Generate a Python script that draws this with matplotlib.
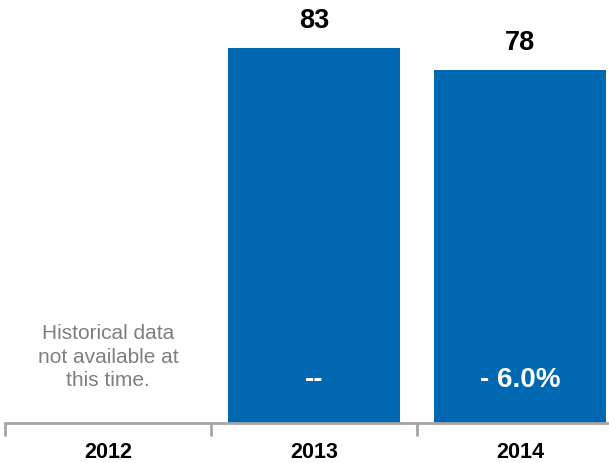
import matplotlib
matplotlib.use("Agg")
import matplotlib.pyplot as plt

# yearly index values; 2012 has no data
years = ["2012", "2013", "2014"]
values = [None, 83, 78]
changes = [None, "--", "- 6.0%"]
no_data_note = "Historical data\nnot available at\nthis time."

BLUE = "#0067B1"
GREY = "#A6A6A6"

plt.rcParams["font.family"] = ["Liberation Sans", "DejaVu Sans"]

fig = plt.figure(figsize=(6.09, 4.63), dpi=100)
ax = fig.add_axes([0.008, 0.0864, 0.992, 0.9136])

x = list(range(len(years)))
for i, v in zip(x, values):
    if v is None:
        continue
    ax.bar(i, v, width=0.835, color=BLUE, zorder=2)
    ax.annotate(f"{v}", (i, v), xytext=(0, 14.5), textcoords="offset points",
                ha="center", va="baseline", fontsize=19.5, fontweight="bold",
                color="black")

for i, c in zip(x, changes):
    if c is None:
        continue
    ax.text(i, 8.0, c, ha="center", va="baseline", fontsize=20,
            fontweight="bold", color="white", zorder=3)

ax.text(0, 14.6, no_data_note, ha="center", va="center", fontsize=15,
        color="#7F7F7F", linespacing=1.28)

ax.set_xlim(-0.5, 2.432)
ax.set_ylim(0, 93.6)

for side in ("top", "right", "left"):
    ax.spines[side].set_visible(False)
ax.spines["bottom"].set_color(GREY)
ax.spines["bottom"].set_linewidth(2)
ax.set_yticks([])

# category boundaries carry the tick marks, labels sit at the centres
ax.set_xticks([-0.5, 0.5, 1.5])
ax.set_xticklabels([])
ax.tick_params(axis="x", which="major", length=9, width=2, color=GREY)
ax.set_xticks(x, minor=True)
ax.set_xticklabels(years, minor=True, fontsize=15.5, fontweight="bold")
ax.tick_params(axis="x", which="minor", length=0, pad=14)

fig.savefig("out.png", dpi=100)
